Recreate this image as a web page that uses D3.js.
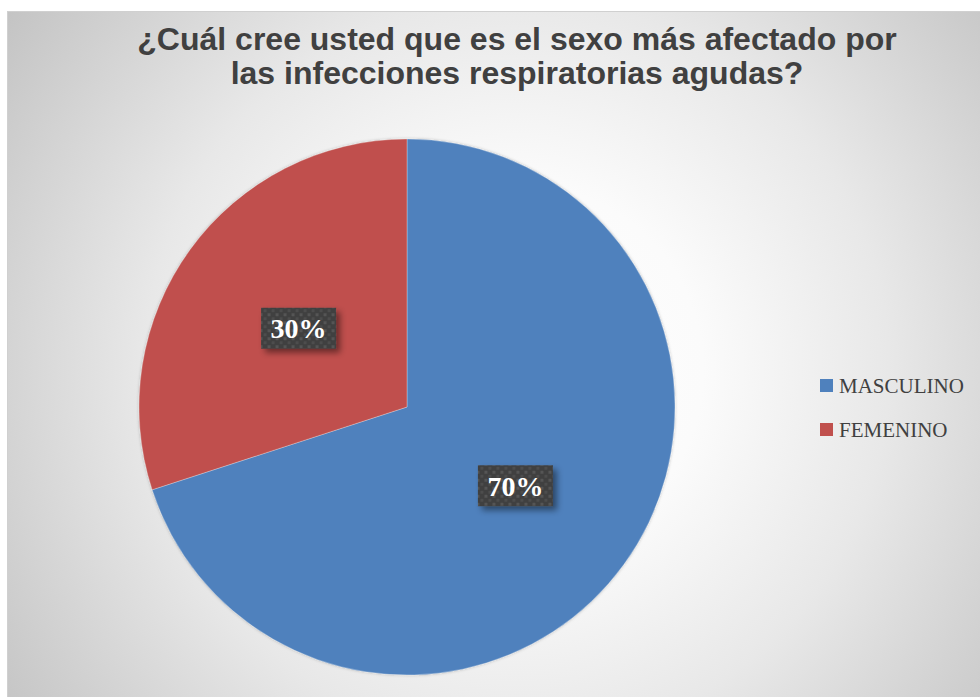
<!DOCTYPE html>
<html>
<head>
<meta charset="utf-8">
<script src="https://cdn.jsdelivr.net/npm/d3@7/dist/d3.min.js"></script>
<style>
  html, body { margin: 0; padding: 0; background: #fff; }
  svg { display: block; }
</style>
</head>
<body>
<div id="chart"></div>
<script>
// Survey answers: which sex is most affected by acute respiratory infections
const categories = ["MASCULINO", "FEMENINO"];
const values = [70, 30];
const colors = ["#4F81BD", "#C0504D"];
const titleLines = [
  "¿Cuál cree usted que es el sexo más afectado por",
  "las infecciones respiratorias agudas?"
];

const W = 980, H = 697;
const svg = d3.select("#chart").append("svg")
  .attr("width", W).attr("height", H);

const defs = svg.append("defs");

// soft radial background of the chart area
const bg = defs.append("radialGradient").attr("id", "bgGrad")
  .attr("gradientUnits", "userSpaceOnUse")
  .attr("cx", 517).attr("cy", 370).attr("r", 620);
bg.append("stop").attr("offset", "0").attr("stop-color", "#ffffff");
bg.append("stop").attr("offset", "0.3").attr("stop-color", "#fbfbfb");
bg.append("stop").attr("offset", "0.6").attr("stop-color", "#e8e8e8");
bg.append("stop").attr("offset", "1").attr("stop-color", "#c4c4c4");

// dotted fill for the data label boxes
const pat = defs.append("pattern").attr("id", "dots")
  .attr("patternUnits", "userSpaceOnUse")
  .attr("width", 8).attr("height", 8);
pat.append("rect").attr("width", 8).attr("height", 8).attr("fill", "#3f3f3f");
pat.append("rect").attr("x", 1).attr("y", 1).attr("width", 3).attr("height", 3).attr("fill", "#555555");
pat.append("rect").attr("x", 5).attr("y", 5).attr("width", 3).attr("height", 3).attr("fill", "#4d4d4d");

const shadow = defs.append("filter").attr("id", "shadow")
  .attr("x", "-30%").attr("y", "-30%").attr("width", "160%").attr("height", "160%");
shadow.append("feDropShadow").attr("dx", 4).attr("dy", 4)
  .attr("stdDeviation", 3).attr("flood-color", "#000").attr("flood-opacity", 0.45);

const pieShadow = defs.append("filter").attr("id", "pieShadow")
  .attr("x", "-10%").attr("y", "-10%").attr("width", "120%").attr("height", "120%");
pieShadow.append("feDropShadow").attr("dx", 0).attr("dy", 0)
  .attr("stdDeviation", 1.5).attr("flood-color", "#000").attr("flood-opacity", 0.25);

// chart area
svg.append("rect")
  .attr("x", 7.5).attr("y", 11.5).attr("width", W).attr("height", H)
  .attr("fill", "url(#bgGrad)")
  .attr("stroke", "#d0d0d0").attr("stroke-width", 1);

// title
const title = svg.append("text")
  .attr("text-anchor", "middle")
  .attr("font-family", "'Liberation Sans', Arial, sans-serif")
  .attr("font-weight", "bold")
  .attr("font-size", 32)
  .attr("fill", "#404040");
titleLines.forEach((t, i) => {
  title.append("tspan").attr("x", 517).attr("y", 50 + i * 34).text(t);
});

// pie
const cx = 407, cy = 407, R = 268;
const pie = d3.pie().sort(null).value(d => d)(values);
const arc = d3.arc().innerRadius(0).outerRadius(R);
const labelArc = d3.arc().innerRadius(R / 2).outerRadius(R / 2);

const g = svg.append("g").attr("transform", `translate(${cx},${cy})`);
g.append("g").attr("filter", "url(#pieShadow)")
  .selectAll("path").data(pie).join("path")
  .attr("d", arc)
  .attr("fill", (d, i) => colors[i])
  .attr("stroke", "rgba(255,255,255,0.35)")
  .attr("stroke-width", 0.8);

// data labels
const lab = g.selectAll("g.lab").data(pie).join("g")
  .attr("class", "lab")
  .attr("transform", d => {
    const [x, y] = labelArc.centroid(d);
    return `translate(${x},${y})`;
  });
lab.append("rect")
  .attr("x", -37.5).attr("y", -20.5).attr("width", 75).attr("height", 41)
  .attr("fill", "url(#dots)")
  .attr("filter", "url(#shadow)");
lab.append("text")
  .attr("text-anchor", "middle")
  .attr("y", 10)
  .attr("font-family", "'Liberation Serif', 'Times New Roman', serif")
  .attr("font-weight", "bold")
  .attr("font-size", 28)
  .attr("fill", "#ffffff")
  .text(d => d.data + "%");

// legend
const legend = svg.append("g").attr("transform", "translate(820,379)");
const items = legend.selectAll("g").data(categories).join("g")
  .attr("transform", (d, i) => `translate(0,${i * 44})`);
items.append("rect")
  .attr("width", 13).attr("height", 13)
  .attr("fill", (d, i) => colors[i]);
items.append("text")
  .attr("x", 19).attr("y", 14)
  .attr("font-family", "'Liberation Serif', 'Times New Roman', serif")
  .attr("font-size", 21)
  .attr("fill", "#404040")
  .text(d => d);
</script>
</body>
</html>
